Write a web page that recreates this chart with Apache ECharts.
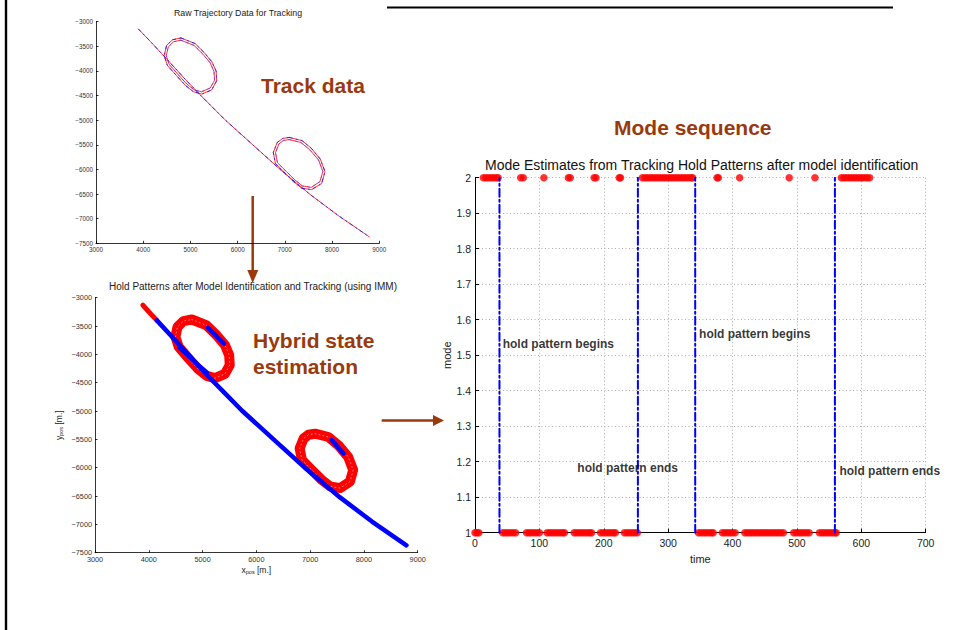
<!DOCTYPE html>
<html><head><meta charset="utf-8">
<script src="https://cdn.jsdelivr.net/npm/echarts@6/dist/echarts.min.js"></script>
<style>html,body{margin:0;padding:0;background:#fff}#c{width:953px;height:630px}</style>
</head><body><div id="c"></div>
<script>
// ---------- Raw trajectory (top-left) ----------
const rawTrack = [[3900,-3150],[4150,-3400],[4500,-3760],[4900,-4180],[5200,-4480],[5450,-4720],[5730,-4990],[6320,-5500],[6900,-6000],[7250,-6280],[7550,-6520],[8150,-6950],[8790,-7370]];
const rawHold1Inner = [[4798,-3376],[5077,-3482],[5263,-3659],[5418,-3835],[5499,-4012],[5511,-4188],[5418,-4347],[5232,-4423],[5077,-4382],[4922,-4265],[4736,-4071],[4550,-3865],[4488,-3688],[4531,-3512],[4643,-3406],[4798,-3376]];
const rawHold1Outer = [[4800,-3330],[5100,-3445],[5295,-3630],[5455,-3815],[5545,-4005],[5555,-4200],[5450,-4385],[5240,-4470],[5060,-4420],[4895,-4295],[4705,-4095],[4510,-3885],[4445,-3690],[4495,-3480],[4625,-3365],[4800,-3330]];
const rawHold2Inner = [[7092,-5394],[7340,-5453],[7526,-5600],[7712,-5806],[7805,-6041],[7743,-6247],[7557,-6365],[7371,-6335],[7216,-6217],[7030,-6041],[6844,-5865],[6801,-5659],[6875,-5482],[6968,-5412],[7092,-5394]];
const rawHold2Outer = [[7095,-5350],[7365,-5415],[7560,-5570],[7750,-5790],[7850,-6045],[7780,-6285],[7565,-6410],[7355,-6380],[7185,-6250],[6995,-6070],[6800,-5880],[6755,-5655],[6840,-5450],[6955,-5370],[7095,-5350]];

// ---------- IMM estimates (bottom-left) ----------
const estMode2Start = [[3890,-3130],[3960,-3205],[4040,-3290],[4150,-3400]];
const estMode2Hold1 = [[4800,-3385],[5077,-3490],[5263,-3665],[5418,-3840],[5495,-4015],[5505,-4190],[5415,-4345],[5232,-4420],[5077,-4380],[4922,-4262],[4736,-4065],[4555,-3865],[4495,-3690],[4535,-3515],[4645,-3412],[4800,-3385]];
const estMode2Hold2 = [[7092,-5400],[7340,-5458],[7526,-5605],[7708,-5810],[7800,-6041],[7740,-6245],[7557,-6360],[7371,-6330],[7216,-6215],[7030,-6041],[6848,-5865],[6805,-5660],[6878,-5485],[6970,-5418],[7092,-5400]];
const estMode1Track = [[4150,-3400],[4500,-3760],[4900,-4180],[5200,-4480],[5450,-4720],[5730,-4990],[6320,-5500],[6900,-6000],[7250,-6280],[7550,-6520],[8150,-6950],[8790,-7370]];
const estMode1Hold1a = [[5100,-3530],[5400,-3810]];
const estMode1Hold1b = [[4560,-3880],[5090,-4330]];
const estMode1Hold2 = [[7400,-5510],[7620,-5750]];

// ---------- Mode sequence (right) ----------
const mode1Times = [0,3,6,43,47,51,55,59,63,80,84,88,92,96,100,112,116,120,124,128,132,136,139,154,158,162,166,170,174,178,181,195,199,203,207,211,215,218,232,236,240,244,248,252,347,351,355,359,363,367,370,384,388,392,396,400,404,419,423,427,431,435,439,443,447,451,455,459,463,467,471,475,479,495,499,503,507,511,515,519,535,539,543,547,551,555,559,561];
const mode2Times = [13,17,21,25,29,33,36,71,75,107,145,148,185,188,224,226,260,264,268,272,276,280,284,288,292,296,300,304,308,312,316,320,324,328,332,336,338,376,378,411,488,528,569,573,577,581,585,589,593,597,601,605,609,613];
const holdTimes = [38,253,342,559];
const noteTimes = [43,348,159,566];
const noteModes = [1.532,1.559,1.181,1.174];
const noteTexts = ['hold pattern begins','hold pattern begins','hold pattern ends','hold pattern ends'];

const xposTicks = {min:3000,max:9000,interval:1000};
const yposTicks = {min:-7500,max:-3000,interval:500};

const FONT = 'Liberation Sans, Arial, Helvetica, sans-serif';
const BROWN = '#9a3a0c';
const neg = v => String(v).replace('-', '\u2212');

function trajAxisX(grid, fs, margin, name){
  return {gridIndex:grid,type:'value',min:xposTicks.min,max:xposTicks.max,interval:xposTicks.interval,
    axisLine:{onZero:false,lineStyle:{color:'#000',width:0.8}},
    axisTick:{inside:true,length:2.5,lineStyle:{color:'#000',width:0.8}},
    axisLabel:{fontSize:fs,color:'#333',margin:margin,fontFamily:FONT,formatter:neg},
    splitLine:{show:false}, name:name||'', nameLocation:'middle', nameGap:12,
    nameTextStyle:{fontSize:8.5,color:'#222',fontFamily:FONT,rich:{s:{fontSize:5.5,fontFamily:FONT,color:'#222',padding:[4,0,0,0]}}}};
}
function trajAxisY(grid, fs, margin, name){
  return {gridIndex:grid,type:'value',min:yposTicks.min,max:yposTicks.max,interval:yposTicks.interval,
    axisLine:{onZero:false,lineStyle:{color:'#000',width:0.8}},
    axisTick:{inside:true,length:2.5,lineStyle:{color:'#000',width:0.8}},
    axisLabel:{fontSize:fs,color:'#333',margin:margin,fontFamily:FONT,formatter:neg},
    splitLine:{show:false}, name:name||'', nameLocation:'middle', nameGap:31,
    nameTextStyle:{fontSize:8.5,color:'#222',fontFamily:FONT,rich:{s:{fontSize:5.5,fontFamily:FONT,color:'#222',padding:[4,0,0,0]}}}};
}
function lineS(xi, data, color, width, type, z){
  return {type:'line',xAxisIndex:xi,yAxisIndex:xi,data:data,symbol:'none',silent:true,animation:false,
    lineStyle:{color:color,width:width,type:type||'solid',cap:'round',join:'round'},z:z||2};
}

const series = [
  lineS(0, rawTrack, '#ff2020', 0.9),
  lineS(0, rawHold1Inner, '#ff2020', 0.9),
  lineS(0, rawHold1Outer, '#ff2020', 0.9),
  lineS(0, rawHold2Inner, '#ff2020', 0.9),
  lineS(0, rawHold2Outer, '#ff2020', 0.9),
  lineS(0, rawTrack, '#2020ff', 0.9, [3,4,1,4], 3),
  lineS(0, rawHold1Outer, '#2020ff', 0.9, [3,4,1,4], 3),
  lineS(0, rawHold2Outer, '#2020ff', 0.9, [3,4,1,4], 3),
  lineS(0, rawHold1Inner, '#5030ff', 0.6, [2,4], 3),
  lineS(0, rawHold2Inner, '#5030ff', 0.6, [2,4], 3),

  lineS(1, estMode2Start, '#ff0000', 5),
  lineS(1, estMode2Hold1, '#ff0000', 10),
  lineS(1, estMode2Hold2, '#ff0000', 10),
  lineS(1, estMode2Hold1, '#ffd0d0', 0.6, [1,3], 3),
  lineS(1, estMode2Hold2, '#ffd0d0', 0.6, [1,3], 3),
  lineS(1, estMode1Track, '#0000ff', 4.5, 'solid', 4),
  lineS(1, estMode1Hold1a, '#0000ff', 4.5, 'solid', 4),
  lineS(1, estMode1Hold1b, '#0000ff', 4, 'solid', 4),
  lineS(1, estMode1Hold2, '#0000ff', 4.5, 'solid', 4),

  {type:'scatter',xAxisIndex:2,yAxisIndex:2,data:mode1Times.map(t=>[t,1]),symbol:'circle',symbolSize:7.5,
    itemStyle:{color:'#ff0000'},animation:false,silent:true,z:2},
  {type:'scatter',xAxisIndex:2,yAxisIndex:2,data:mode2Times.map(t=>[t,2]),symbol:'circle',symbolSize:7.5,
    itemStyle:{color:'#ff0000'},animation:false,silent:true,z:2},
  ...holdTimes.map(t => lineS(2, [[t,1],[t,2]], '#0000ff', 2, [8,3,2,3], 5)),
  {type:'scatter',xAxisIndex:2,yAxisIndex:2,data:noteTimes.map((t,i)=>[t,noteModes[i],noteTexts[i]]),
    symbolSize:0,animation:false,silent:true,z:6,
    label:{show:true,position:'right',distance:0,formatter:p=>p.data[2],fontSize:12,fontWeight:'bold',color:'#000',fontFamily:FONT}}
];

const chart = echarts.init(document.getElementById('c'), null, {renderer:'svg'});
chart.setOption({
  backgroundColor:'#fff',
  animation:false,
  grid:[
    {left:96,top:21.7,width:283.3,height:221.6},
    {left:95,top:297.7,width:322.7,height:255},
    {left:475,top:177.7,width:450.7,height:355}
  ],
  xAxis:[
    trajAxisX(0,6.3,3),
    trajAxisX(1,7.3,3,'x{s|pos} [m.]'),
    {gridIndex:2,type:'value',min:0,max:700,interval:100,
      axisLine:{onZero:false,lineStyle:{color:'#000',width:1}},
      axisTick:{inside:true,length:4,lineStyle:{color:'#000'}},
      axisLabel:{fontSize:10.5,color:'#222',margin:5,fontFamily:FONT},
      splitLine:{show:true,lineStyle:{color:'#999',width:0.8,type:[1,2.5]}},
      name:'time',nameLocation:'middle',nameGap:16,nameTextStyle:{fontSize:11,color:'#222',fontFamily:FONT}}
  ],
  yAxis:[
    trajAxisY(0,6.3,3),
    trajAxisY(1,7.3,3,'y{s|pos} [m.]'),
    {gridIndex:2,type:'value',min:1,max:2,interval:0.1,
      axisLine:{onZero:false,lineStyle:{color:'#000',width:1}},
      axisTick:{inside:true,length:4,lineStyle:{color:'#000'}},
      axisLabel:{fontSize:10.5,color:'#222',margin:4,fontFamily:FONT,formatter:v=>String(Math.round(v*10)/10)},
      splitLine:{show:true,lineStyle:{color:'#999',width:0.8,type:[1,2.5]}},
      name:'mode',nameLocation:'middle',nameGap:22,nameTextStyle:{fontSize:11,color:'#222',fontFamily:FONT}}
  ],
  series:series,
  graphic:[
    {type:'line',shape:{x1:6,y1:0,x2:6,y2:630},style:{stroke:'#000',lineWidth:2.4},silent:true},
    {type:'line',shape:{x1:387,y1:7.5,x2:893,y2:7.5},style:{stroke:'#000',lineWidth:2},silent:true},
    {type:'text',x:238,y:13.3,style:{text:'Raw Trajectory Data for Tracking',font:'8.8px '+FONT,fill:'#222',textAlign:'center',textVerticalAlign:'middle'},silent:true},
    {type:'text',x:253,y:286.7,style:{text:'Hold Patterns after Model Identification and Tracking (using IMM)',font:'10px '+FONT,fill:'#222',textAlign:'center',textVerticalAlign:'middle'},silent:true},
    {type:'text',x:701.7,y:164.5,style:{text:'Mode Estimates from Tracking Hold Patterns after model identification',font:'14px '+FONT,fill:'#111',textAlign:'center',textVerticalAlign:'middle'},silent:true},
    {type:'text',x:261,y:85,style:{text:'Track data',font:'bold 21px '+FONT,fill:BROWN,textAlign:'left',textVerticalAlign:'middle'},silent:true},
    {type:'text',x:253,y:340.7,style:{text:'Hybrid state',font:'bold 21px '+FONT,fill:BROWN,textAlign:'left',textVerticalAlign:'middle'},silent:true},
    {type:'text',x:253,y:366.7,style:{text:'estimation',font:'bold 21px '+FONT,fill:BROWN,textAlign:'left',textVerticalAlign:'middle'},silent:true},
    {type:'text',x:614,y:127,style:{text:'Mode sequence',font:'bold 21px '+FONT,fill:BROWN,textAlign:'left',textVerticalAlign:'middle'},silent:true},
    {type:'line',shape:{x1:252.7,y1:196,x2:252.7,y2:272},style:{stroke:BROWN,lineWidth:2.5},silent:true},
    {type:'polygon',shape:{points:[[247.3,270],[258.3,270],[252.7,283]]},style:{fill:BROWN},silent:true},
    {type:'line',shape:{x1:381.7,y1:420.5,x2:436,y2:420.5},style:{stroke:BROWN,lineWidth:2.5},silent:true},
    {type:'polygon',shape:{points:[[433,415],[444,420.5],[433,426]]},style:{fill:BROWN},silent:true}
  ]
});
</script></body></html>
